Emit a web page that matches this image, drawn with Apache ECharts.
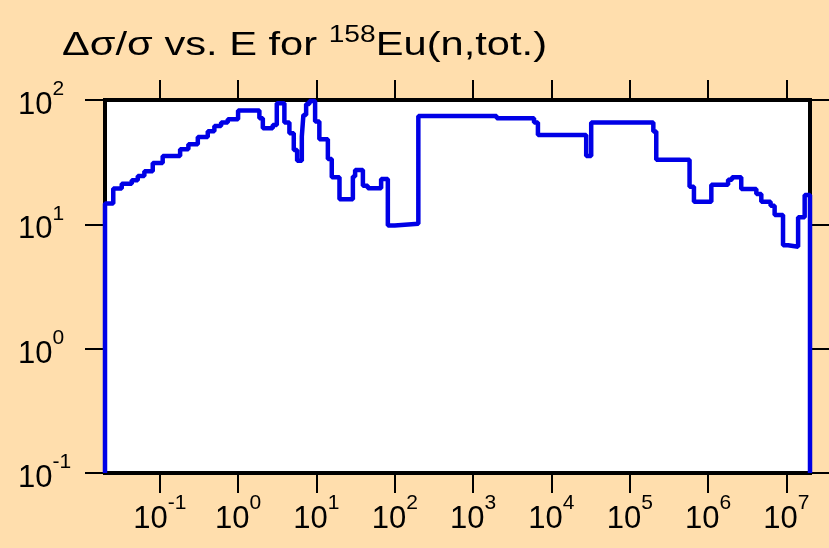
<!DOCTYPE html>
<html>
<head>
<meta charset="utf-8">
<script src="https://cdn.jsdelivr.net/npm/echarts@6/dist/echarts.min.js"></script>
<style>
  html, body { margin: 0; padding: 0; background: #ffdead; }
  #main { width: 829px; height: 548px; }
</style>
</head>
<body>
<div id="main"></div>
<script>
// bin lower edges (eV) and relative uncertainty (%) of each bin
var energies = [
  0.02, 0.0255, 0.0327, 0.0439, 0.0524, 0.0636, 0.0814, 0.109, 0.182, 0.232,
  0.306, 0.41, 0.498, 0.607, 0.738, 1.0, 1.87, 2.07, 2.77, 3.12,
  3.9, 4.52, 5.14, 5.67, 6.51, 6.82, 7.39, 8.14, 9.62, 10.9,
  14.0, 15.7, 19.7, 29.2, 31.2, 39.2, 45.3, 67.0, 81.6, 100,
  200, 2000, 6000, 6725, 27800, 32200, 2.0e5, 2.18e5, 5.8e5, 6.6e5,
  1.1e6, 1.8e6, 2.02e6, 2.65e6, 4.13e6, 4.78e6, 6.28e6, 7.07e6, 9.05e6, 1.05e7,
  1.41e7, 1.71e7
]
var relErr = [
  14.7, 19.4, 21.2, 22.6, 24.5, 26.7, 31.2, 35.5, 40.2, 44.1,
  50.5, 56.1, 61.9, 65.8, 70.1, 82.2, 71.4, 59.3, 63.0, 94.2,
  65.8, 54.0, 39.7, 32.5, 50.8, 75.8, 93.0, 98.0, 67.0, 48.4,
  33.6, 23.9, 15.9, 24.2, 27.4, 20.4, 19.5, 23.2, 9.8, 10.1,
  74.5, 71.4, 65.8, 52.4, 35.5, 65.8, 55.7, 33.0, 20.1, 15.2,
  20.8, 22.8, 23.9, 19.2, 17.5, 15.2, 14.1, 11.9, 6.8, 6.6,
  11.4, 17.2
]
var eMin = 0.02
var eMax = 2.0e7
var yMin = 0.1
var yMax = 100
var xTicks = [0.1, 1, 10, 100, 1e3, 1e4, 1e5, 1e6, 1e7]
var yTicks = [0.1, 1, 10, 100]

var data = [[eMin, yMin]]
for (var i = 0; i < energies.length; i++) {
  data.push([energies[i], relErr[i]])
}
data.push([eMax, relErr[relErr.length - 1]])
data.push([eMax, yMin])

function powLabel(v) {
  var e = Math.round(Math.log10(v))
  return '{b|10}{s|' + e + '}'
}
var labelRich = {
  b: { fontSize: 31, fontFamily: 'Liberation Sans', color: '#000', padding: [11, 0, 0, 0] },
  s: { fontSize: 21, fontFamily: 'Liberation Sans', color: '#000', verticalAlign: 'top' }
}

var chart = echarts.init(document.getElementById('main'))
var option = {
  backgroundColor: '#ffdead',
  animation: false,
  graphic: [
    {
      type: 'text',
      x: 62,
      y: 24,
      scaleX: 1.225,
      style: {
        text: '{a|Δσ/σ vs. E for }{s|158}{a|Eu(n,tot.)}',
        rich: {
          a: { fontSize: 34, fontFamily: 'Liberation Sans', fontWeight: 'normal', fill: '#000', padding: [5, 0, 0, 0] },
          s: { fontSize: 23, fontFamily: 'Liberation Sans', fontWeight: 'normal', fill: '#000', verticalAlign: 'top' }
        }
      }
    }
  ],
  grid: {
    left: 105,
    right: 19,
    top: 100,
    bottom: 75,
    show: true,
    backgroundColor: '#fff',
    borderColor: '#000',
    borderWidth: 4
  },
  xAxis: [
    {
      type: 'log',
      min: eMin,
      max: eMax,
      position: 'bottom',
      axisLine: { show: false },
      splitLine: { show: false },
      axisTick: { show: true, length: 20, customValues: xTicks, lineStyle: { color: '#000', width: 2 } },
      axisLabel: { show: true, margin: 20, customValues: xTicks, formatter: powLabel, rich: labelRich }
    },
    {
      type: 'log',
      min: eMin,
      max: eMax,
      position: 'top',
      axisLine: { show: false },
      splitLine: { show: false },
      axisTick: { show: true, length: 20, customValues: xTicks, lineStyle: { color: '#000', width: 2 } },
      axisLabel: { show: false }
    }
  ],
  yAxis: [
    {
      type: 'log',
      min: yMin,
      max: yMax,
      position: 'left',
      axisLine: { show: false },
      splitLine: { show: false },
      axisTick: { show: true, length: 20, customValues: yTicks, lineStyle: { color: '#000', width: 2 } },
      axisLabel: { show: true, margin: 87, align: 'left', customValues: yTicks, formatter: powLabel, rich: labelRich }
    },
    {
      type: 'log',
      min: yMin,
      max: yMax,
      position: 'right',
      axisLine: { show: false },
      splitLine: { show: false },
      axisTick: { show: true, length: 20, customValues: yTicks, lineStyle: { color: '#000', width: 2 } },
      axisLabel: { show: false }
    }
  ],
  series: [
    {
      type: 'line',
      step: 'end',
      xAxisIndex: 0,
      yAxisIndex: 0,
      showSymbol: false,
      clip: false,
      lineStyle: { color: '#0000e6', width: 4.5 },
      data: data
    }
  ]
}
chart.setOption(option)
</script>
</body>
</html>
